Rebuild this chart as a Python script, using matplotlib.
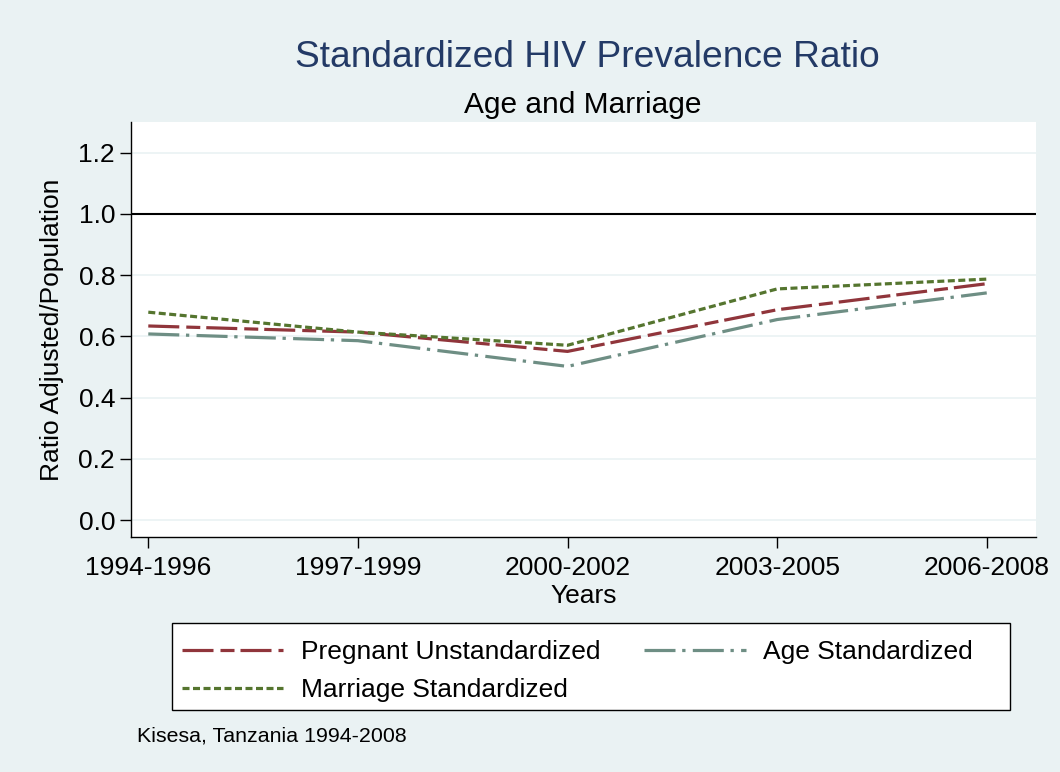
import numpy as np
import matplotlib
matplotlib.use("Agg")
import matplotlib.pyplot as plt
from matplotlib.patches import Rectangle

periods = ["1994-1996", "1997-1999", "2000-2002", "2003-2005", "2006-2008"]
pregnant_unstd = [0.634, 0.614, 0.551, 0.687, 0.772]
age_std = [0.608, 0.586, 0.502, 0.655, 0.742]
marriage_std = [0.679, 0.614, 0.571, 0.755, 0.787]
y_ticks = [0.0, 0.2, 0.4, 0.6, 0.8, 1.0, 1.2]

bg = "#EAF2F3"
red = "#90353B"
teal = "#6E8E84"
green = "#55752F"
navy = "#233A66"

plt.rcParams["font.family"] = ["Liberation Sans", "DejaVu Sans"]
plt.rcParams["lines.scale_dashes"] = False

W, H = 1060, 772
fig = plt.figure(figsize=(10.6, 7.72), dpi=100, facecolor=bg)
ax = fig.add_axes([131 / W, 1 - 537 / H, (1036 - 131) / W, (537 - 122) / H])
ax.set_facecolor("white")

x = np.arange(len(periods))
for yt in y_ticks:
    ax.axhline(yt, color=bg, lw=1.2, zorder=1)
ax.axhline(1.0, color="black", lw=1.5, zorder=2)

px = 0.72
l1, = ax.plot(x, pregnant_unstd, color=red, lw=2.3, zorder=3,
              dashes=(31 * px, 7 * px, 14 * px, 6 * px), label="Pregnant Unstandardized")
l2, = ax.plot(x, age_std, color=teal, lw=2.3, zorder=3,
              dashes=(31 * px, 6.7 * px, 3.3 * px, 7.3 * px), label="Age Standardized")
l3, = ax.plot(x, marriage_std, color=green, lw=2.3, zorder=4,
              dashes=(7 * px, 3.5 * px), label="Marriage Standardized")

ax.set_xlim(-0.0825, 4.235)
ax.set_ylim(-0.055, 1.30)
ax.set_xticks(x)
ax.set_xticklabels(periods)
ax.set_yticks(y_ticks)
ax.set_yticklabels([f"{v:.1f}" for v in y_ticks])
ax.tick_params(axis="x", length=8, width=1, pad=6, labelsize=19, colors="black")
ax.tick_params(axis="y", length=8, width=1, pad=3.5, labelsize=19, colors="black")
for s in ["top", "right"]:
    ax.spines[s].set_visible(False)
for s in ["left", "bottom"]:
    ax.spines[s].set_linewidth(1.0)
    ax.spines[s].set_color("black")

fig.text(587.5 / W, 1 - 66.7 / H, "Standardized HIV Prevalence Ratio",
         ha="center", va="baseline", fontsize=26.7, color=navy)
fig.text(583 / W, 1 - 112.7 / H, "Age and Marriage",
         ha="center", va="baseline", fontsize=21.5, color="black")
fig.text(52 / W, 1 - 330 / H, "Ratio Adjusted/Population",
         ha="center", va="center", rotation=90, fontsize=19)
fig.text(583.5 / W, 1 - 602.7 / H, "Years",
         ha="center", va="baseline", fontsize=19)
fig.text(136.7 / W, 1 - 741.7 / H, "Kisesa, Tanzania 1994-2008",
         ha="left", va="baseline", fontsize=15.4)

# legend box drawn separately so its size and the columns can be set independently
box = Rectangle((171.7 / W, 1 - 710 / H), (1010 - 171.7) / W, (710 - 623.3) / H,
                transform=fig.transFigure, facecolor="white", edgecolor="black",
                lw=1.0, zorder=0)
fig.patches.append(box)
fig.legend([l1, l3, l2],
           ["Pregnant Unstandardized", "Marriage Standardized", "Age Standardized"],
           ncol=2, loc="upper left", bbox_to_anchor=(164.7 / W, 1 - 623.3 / H),
           borderaxespad=0, fontsize=19, handlelength=3.85, handletextpad=0.65,
           labelspacing=0.53, borderpad=0.65, columnspacing=1.67, frameon=False)

fig.savefig("out.png", dpi=100, facecolor=bg)
